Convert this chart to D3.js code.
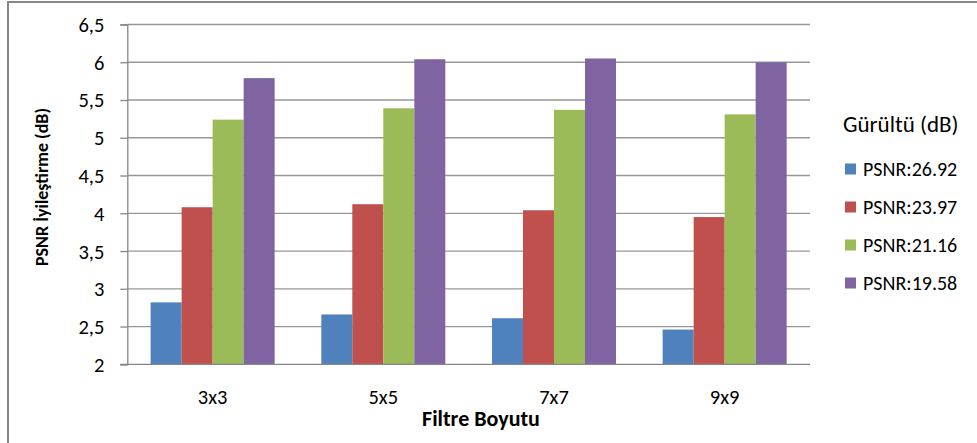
<!DOCTYPE html>
<html>
<head>
<meta charset="utf-8">
<script src="https://cdn.jsdelivr.net/npm/d3@7"></script>
<style>
  html, body { margin: 0; padding: 0; background: #fff; }
  svg { display: block; }
  text { font-family: Carlito, Calibri, Lato, sans-serif; fill: #000; }
</style>
</head>
<body>
<svg id="chart" width="977" height="443"></svg>
<script>
// Filter sizes on the x axis
const categories = ["3x3", "5x5", "7x7", "9x9"];
// Noise levels (one bar series each)
const seriesNames = ["PSNR:26.92", "PSNR:23.97", "PSNR:21.16", "PSNR:19.58"];
const seriesColors = ["#4F81BD", "#C0504D", "#9BBB59", "#8064A2"];
// PSNR improvement (dB) per series, ordered like categories
const psnr2692 = [2.82, 2.66, 2.61, 2.46];
const psnr2397 = [4.08, 4.12, 4.04, 3.95];
const psnr2116 = [5.24, 5.39, 5.37, 5.31];
const psnr1958 = [5.79, 6.04, 6.05, 6.00];
const seriesValues = [psnr2692, psnr2397, psnr2116, psnr1958];
// Value axis ticks
const yTicks = [2, 2.5, 3, 3.5, 4, 4.5, 5, 5.5, 6, 6.5];
const yTickLabels = ["2", "2,5", "3", "3,5", "4", "4,5", "5", "5,5", "6", "6,5"];

const svg = d3.select("#chart");
const W = 977, H = 443;
const plot = { left: 127.3, right: 810, top: 24.5, bottom: 364.3 };

// outer chart frame (only top and left edges fall inside the view)
svg.append("path")
  .attr("d", `M8,${H} L8,2 L${W},2`)
  .attr("fill", "none").attr("stroke", "#868686").attr("stroke-width", 2);

const x0 = d3.scaleBand().domain(categories)
  .range([plot.left, plot.right]).paddingInner(0.2735).paddingOuter(0.2735 / 2);
const x1 = d3.scaleBand().domain(d3.range(seriesNames.length))
  .range([0, x0.bandwidth()]);
const y = d3.scaleLinear().domain([2, 6.5]).range([plot.bottom, plot.top]);

// horizontal gridlines
svg.append("g").selectAll("line").data(yTicks.filter(t => t > 2)).join("line")
  .attr("x1", plot.left).attr("x2", plot.right)
  .attr("y1", d => y(d)).attr("y2", d => y(d))
  .attr("stroke", "#979797").attr("stroke-width", 1.3);

// bars
const groups = svg.append("g").selectAll("g").data(categories).join("g")
  .attr("transform", c => `translate(${x0(c)},0)`);
groups.selectAll("rect")
  .data((c, ci) => seriesValues.map((vals, si) => ({ si, v: vals[ci] })))
  .join("rect")
  .attr("x", d => x1(d.si)).attr("width", x1.bandwidth())
  .attr("y", d => y(d.v)).attr("height", d => y(2) - y(d.v))
  .attr("fill", d => seriesColors[d.si]);

// value axis
const yAxis = svg.append("g").attr("transform", `translate(${plot.left},0)`)
  .call(d3.axisLeft(y).tickValues(yTicks).tickSize(7).tickPadding(16)
    .tickFormat((d, i) => yTickLabels[i]));
yAxis.select(".domain").attr("stroke", "#868686").attr("stroke-width", 1.3);
yAxis.selectAll(".tick line").attr("stroke", "#868686").attr("stroke-width", 1.3);
yAxis.selectAll(".tick text")
  .attr("dy", "0.34em")
  .style("font-size", "20.5px").style("fill", "#000").style("font-family", null);

// category axis
const xAxis = svg.append("g").attr("transform", `translate(0,${plot.bottom})`)
  .call(d3.axisBottom(x0).tickSize(0).tickPadding(0));
xAxis.select(".domain").attr("d", `M${plot.left - 7},0H${plot.right}`)
  .attr("stroke", "#868686").attr("stroke-width", 1.3);
xAxis.selectAll(".tick text")
  .attr("y", 40).attr("dy", null)
  .style("font-size", "20.5px").style("fill", "#000").style("font-family", null);

// axis titles
svg.append("text")
  .attr("text-anchor", "middle")
  .attr("x", 481).attr("y", 426)
  .style("font-size", "22px").style("font-weight", "bold")
  .text("Filtre Boyutu");
svg.append("text")
  .attr("text-anchor", "middle")
  .attr("transform", "translate(48,187) rotate(-90)")
  .style("font-size", "18px").style("font-weight", "bold")
  .text("PSNR İyileştirme (dB)");

// legend
const legend = svg.append("g");
legend.append("text")
  .attr("x", 843).attr("y", 132)
  .style("font-size", "23px")
  .text("Gürültü (dB)");
const items = legend.selectAll("g.item").data(seriesNames).join("g")
  .attr("class", "item")
  .attr("transform", (d, i) => `translate(845,${169 + i * 38})`);
items.append("rect").attr("x", 0).attr("y", -5.5).attr("width", 11).attr("height", 11)
  .attr("fill", (d, i) => seriesColors[i]);
items.append("text")
  .attr("x", 18).attr("y", 6.5)
  .style("font-size", "20px")
  .text(d => d);
</script>
</body>
</html>
